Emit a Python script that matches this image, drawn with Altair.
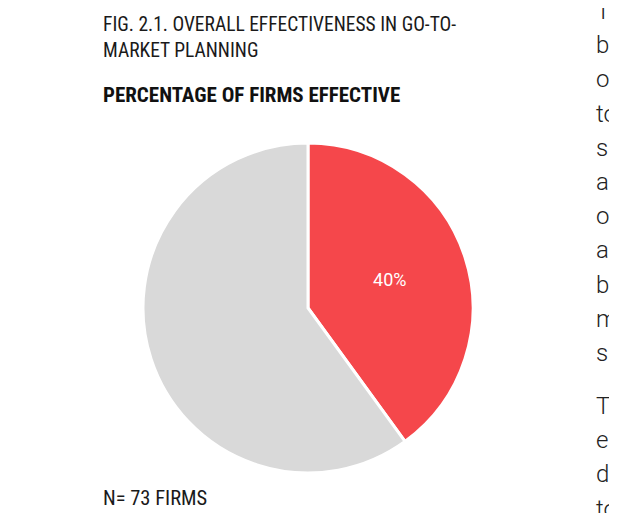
import altair as alt
import pandas as pd

# values
categories = ["Effective", "Not effective"]
shares = [40, 60]
slice_colors = ["#F5474B", "#D9D9D9"]
labels = ["40%", ""]

title_lines = ["FIG. 2.1. OVERALL EFFECTIVENESS IN GO-TO-", "MARKET PLANNING"]
subtitle = "PERCENTAGE OF FIRMS EFFECTIVE"
footnote = "N= 73 FIRMS"

# body text of the page, cut off by the right edge
column_para1 = ["T", "b", "o", "to", "s", "a", "o", "a", "b", "m", "s"]
column_para2 = ["T", "e", "d", "to"]

COND = "Roboto Condensed, Liberation Sans Narrow, DejaVu Sans Condensed, sans-serif"
INK = "#1a1a1a"

pie_df = pd.DataFrame({"category": categories, "share": shares,
                       "label": labels, "order": [0, 1]})

base = alt.Chart(pie_df).encode(
    theta=alt.Theta("share:Q", stack=True),
    order=alt.Order("order:Q"),
)

pie = base.mark_arc(radius=165, stroke="white", strokeWidth=3).encode(
    x=alt.value(300),
    y=alt.value(300),
    color=alt.Color("category:N",
                    scale=alt.Scale(domain=categories, range=slice_colors),
                    legend=None),
)

pie_labels = base.mark_text(radius=86, font="Roboto", fontSize=18,
                            color="white").encode(
    x=alt.value(300),
    y=alt.value(300),
    text="label:N",
)


def note(text, x, y, size, weight="normal", font=COND, color=INK,
         line_height=None):
    kw = dict(font=font, fontSize=size, fontWeight=weight, color=color,
              align="left", baseline="alphabetic", lineBreak="\n")
    if line_height is not None:
        kw["lineHeight"] = line_height
    return alt.Chart(pd.DataFrame({"t": [text]})).mark_text(**kw).encode(
        text="t:N", x=alt.value(x), y=alt.value(y))


texts = [
    note(title_lines[0], 95, 22.7, 19.5),
    note(title_lines[1], 95, 48.7, 19.5),
    note(subtitle, 95, 93.5, 21, weight="bold", color="#111111"),
    note(footnote, 95, 497, 20.5),
    note("\n".join(column_para1), 588, 11, 24, weight=300, font="Roboto",
         color="#222222", line_height=34.2),
    note("\n".join(column_para2), 588, 406, 24, weight=300, font="Roboto",
         color="#222222", line_height=34.2),
]

chart = alt.layer(pie, pie_labels, *texts).properties(
    width=601,
    height=505,
    padding=0,
    autosize=alt.AutoSizeParams(type="none"),
    background="white",
).configure_view(stroke=None)

chart.save("out.html", embed_options={"renderer": "svg", "actions": False})
